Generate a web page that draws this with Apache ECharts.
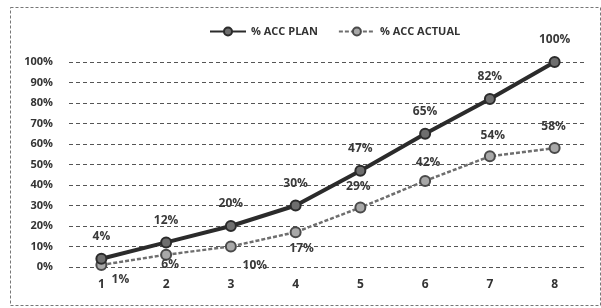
<!DOCTYPE html>
<html>
<head>
<meta charset="utf-8">
<script src="https://cdn.jsdelivr.net/npm/echarts@6/dist/echarts.min.js"></script>
<style>
html, body { margin: 0; padding: 0; background: #fff; }
#chart { width: 601px; height: 308px; }
</style>
</head>
<body>
<div id="chart"></div>
<script>
// data
const categories = ['1', '2', '3', '4', '5', '6', '7', '8']
const accPlan = [4, 12, 20, 30, 47, 65, 82, 100]
const accActual = [1, 6, 10, 17, 29, 42, 54, 58]
const seriesNames = ['% ACC PLAN', '% ACC ACTUAL']

// label placement for actual line, per point
const actualLabelPos = ['bottom', 'bottom', 'bottom', 'bottom', 'top', 'top', 'top', 'top']
const actualLabelOffset = [[19, -1], [4, -6], [24, 3], [6, 0], [-2, -5], [3, -2], [3, -5], [-1, -6]]

const chart = echarts.init(document.getElementById('chart'))

const labelStyle = {
    show: true,
    fontFamily: 'Open Sans',
    fontWeight: 'bold',
    fontSize: 12,
    color: '#3a3a3a',
    formatter: (p) => p.value + '%'
}

const option = {
    backgroundColor: '#fff',
    animation: false,
    legend: {
        top: 21,
        left: 204,
        itemWidth: 36,
        itemHeight: 10,
        itemGap: 20,
        textStyle: { fontFamily: 'Open Sans', fontSize: 11, color: '#333', fontWeight: 'bold' },
        data: seriesNames
    },
    grid: { left: 69, right: 14, top: 62, bottom: 41 },
    xAxis: {
        type: 'category',
        data: categories,
        boundaryGap: true,
        axisLine: { show: false },
        axisTick: { show: false },
        axisLabel: { margin: 12, fontFamily: 'Open Sans', fontWeight: 'bold', fontSize: 12, color: '#333' }
    },
    yAxis: {
        type: 'value',
        min: 0,
        max: 100,
        interval: 10,
        axisLine: { show: false },
        axisTick: { show: false },
        axisLabel: { margin: 16, fontFamily: 'Open Sans', fontWeight: 'bold', fontSize: 11, color: '#333', formatter: '{value}%' },
        splitLine: { lineStyle: { color: '#555', type: [4, 3], width: 1 } }
    },
    series: [
        {
            name: seriesNames[0],
            type: 'line',
            data: accPlan,
            symbol: 'circle',
            symbolSize: 10,
            lineStyle: { color: '#2b2b2b', width: 4 },
            itemStyle: { color: '#6e6e6e', borderColor: '#2b2b2b', borderWidth: 2 },
            label: Object.assign({}, labelStyle, { position: 'top', distance: 10 }),
            z: 3
        },
        {
            name: seriesNames[1],
            type: 'line',
            data: accActual.map((v, i) => ({
                value: v,
                label: { position: actualLabelPos[i], offset: actualLabelOffset[i] }
            })),
            symbol: 'circle',
            symbolSize: 10,
            lineStyle: { color: '#6e6e6e', width: 2.5, type: [4, 2] },
            itemStyle: { color: '#a8a8a8', borderColor: '#4a4a4a', borderWidth: 2 },
            label: Object.assign({}, labelStyle, { distance: 4 }),
            z: 2
        }
    ],
    graphic: [
        {
            type: 'rect',
            left: 8,
            top: 5,
            shape: { width: 590, height: 298 },
            style: { fill: 'none', stroke: '#777', lineWidth: 1, lineDash: [3, 2] },
            silent: true
        }
    ]
}

chart.setOption(option)
window.addEventListener('resize', () => chart.resize())
</script>
</body>
</html>
